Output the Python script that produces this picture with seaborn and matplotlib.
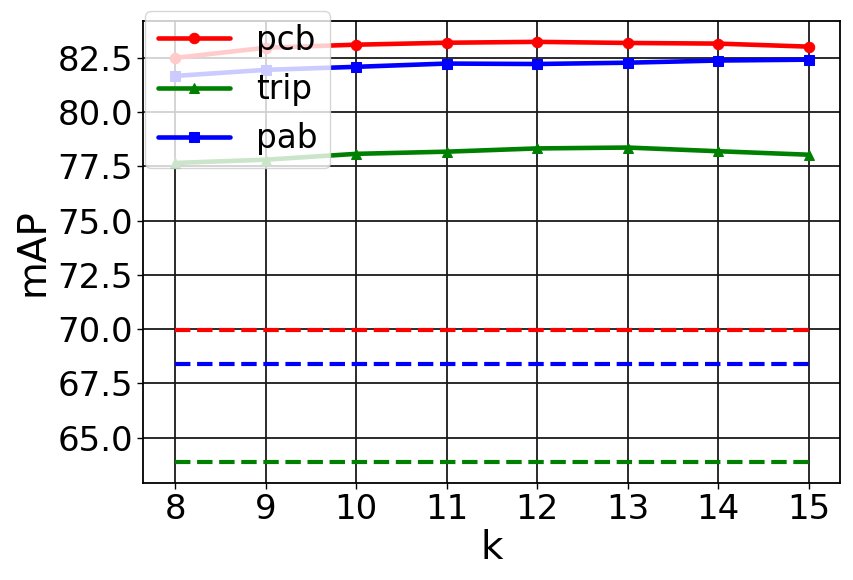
import matplotlib
matplotlib.use("Agg")
import matplotlib.pyplot as plt
from matplotlib.ticker import MultipleLocator, FormatStrFormatter
import seaborn as sns

# Data
k = [8, 9, 10, 11, 12, 13, 14, 15]
pcb = [82.50, 82.97, 83.11, 83.20, 83.24, 83.19, 83.16, 83.02]
trip = [77.66, 77.81, 78.08, 78.18, 78.33, 78.37, 78.20, 78.04]
pab = [81.67, 81.95, 82.09, 82.24, 82.22, 82.28, 82.38, 82.42]

# Baselines (dashed, not in legend)
pcb_base = 69.95
pab_base = 68.40
trip_base = 63.90

sns.set_style("white")
plt.rcParams['font.family'] = ['DejaVu Sans']
plt.rcParams.update({'text.color': 'black', 'axes.labelcolor': 'black',
                     'xtick.color': 'black', 'ytick.color': 'black'})

fig, ax = plt.subplots(figsize=(8.54, 5.8), dpi=100)

line_kw = dict(linewidth=3.3, markersize=7.5, ax=ax)
sns.lineplot(x=k, y=pcb, color='red', marker='o', markeredgecolor='red', label='pcb', **line_kw)
sns.lineplot(x=k, y=trip, color='green', marker='^', markeredgecolor='green', label='trip', **line_kw)
sns.lineplot(x=k, y=pab, color='blue', marker='s', markeredgecolor='blue', label='pab', **line_kw)

dash_kw = dict(linewidth=3, linestyle='--', ax=ax, legend=False)
sns.lineplot(x=k, y=[pcb_base] * len(k), color='red', **dash_kw)
sns.lineplot(x=k, y=[pab_base] * len(k), color='blue', **dash_kw)
sns.lineplot(x=k, y=[trip_base] * len(k), color='green', **dash_kw)

ax.grid(True, color='#1a1a1a', linewidth=1.3)
ax.set_axisbelow(True)
for s in ax.spines.values():
    s.set_color('black')
    s.set_linewidth(1.3)
ax.yaxis.set_major_locator(MultipleLocator(2.5))
ax.yaxis.set_major_formatter(FormatStrFormatter('%.1f'))
ax.tick_params(axis='both', which='major', labelsize=24.5, length=4, width=1, bottom=True, left=True)
ax.set_xticks(k)
ax.set_xlabel('k', fontsize=28, labelpad=2)
ax.set_ylabel('mAP', fontsize=28)

ax.legend(loc='upper left', bbox_to_anchor=(0.002, 1.022), borderaxespad=0,
          fontsize=23.5, handlelength=2.2, framealpha=0.8)

fig.subplots_adjust(left=0.168, right=0.984, bottom=0.168, top=0.964)
plt.savefig("out.png", dpi=100)
plt.close()
